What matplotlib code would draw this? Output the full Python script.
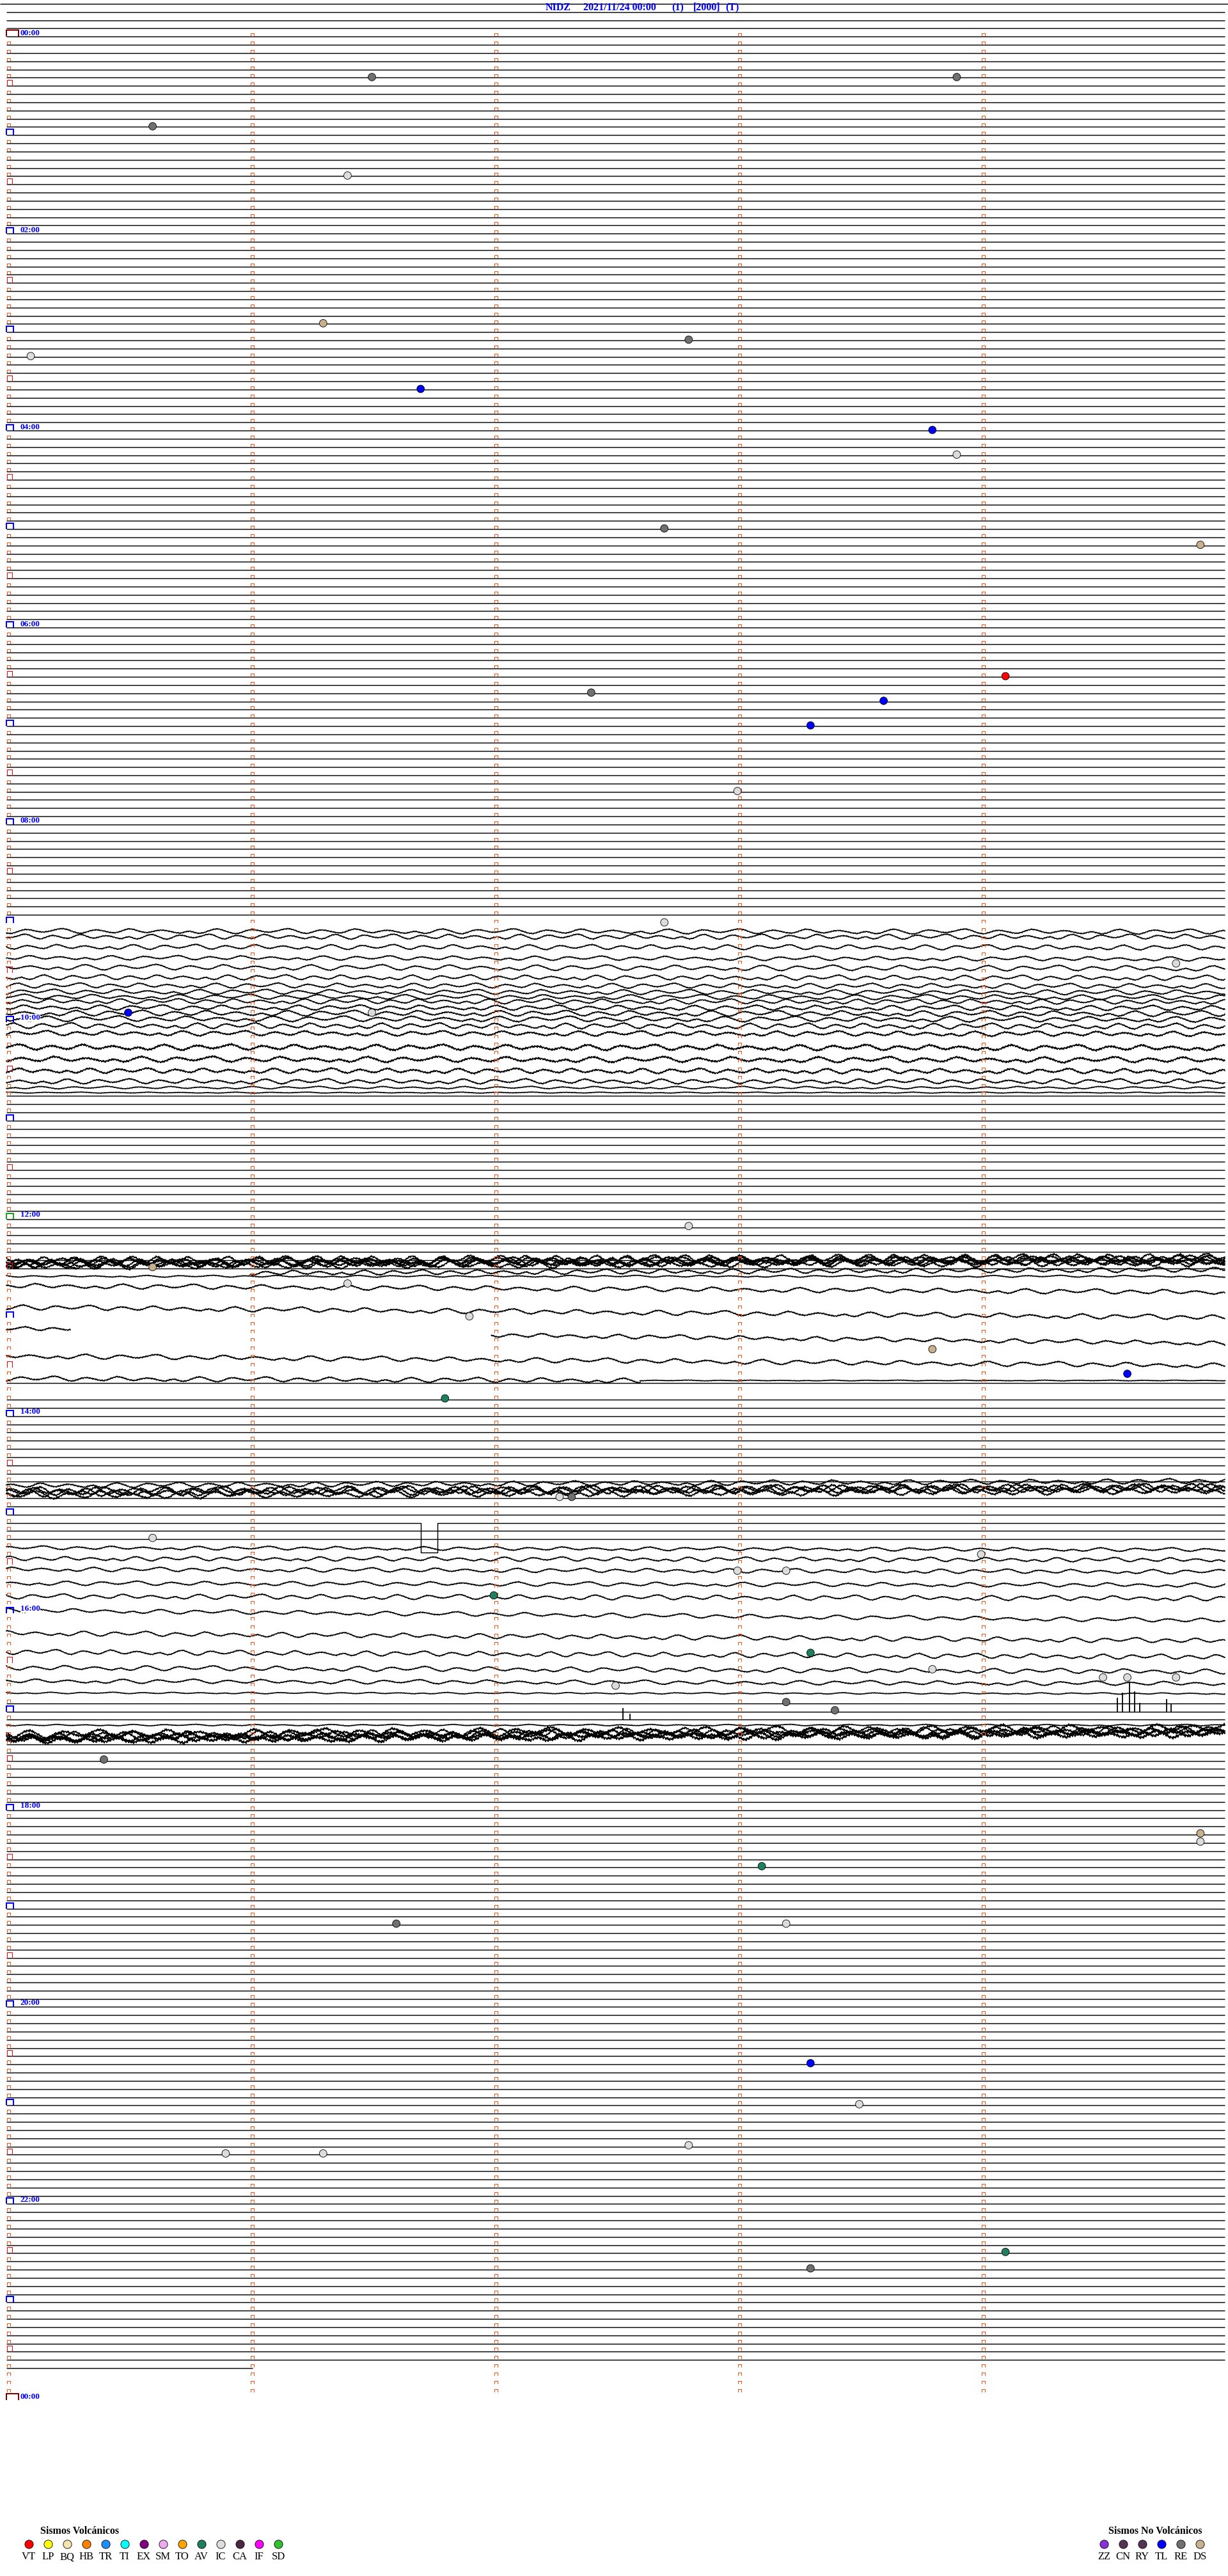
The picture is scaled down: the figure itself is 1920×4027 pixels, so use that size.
import matplotlib
matplotlib.use('Agg')
import matplotlib.pyplot as plt
from matplotlib.collections import LineCollection
import numpy as np

# ---- header -------------------------------------------------------------
station = 'NIDZ'
day_txt = '2021/11/24 00:00'
head_bits = ['(1)', '[2000]', '(T)']

# ---- picked events: minutes after 00:00 and event type --------------------
ev_min = [26.5, 28.9, 55.6, 86.4, 176.3, 187.8, 195.1, 216.7, 243.8, 258.9,
          302.7, 314.9, 394.1, 402.4, 408.6, 423.3, 463.0, 542.7, 569.8, 595.5,
          596.5, 727.8, 750.6, 761.4, 781.9, 803.8, 819.6, 831.8, 892.27, 892.32,
          915.6, 929.0, 938.0, 938.2, 952.0, 988.3, 998.8, 1004.5, 1004.6, 1004.8,
          1007.5, 1018.2, 1023.4, 1050.4, 1099.9, 1104.9, 1118.1, 1151.6, 1153.2,
          1238.3, 1263.5, 1287.8, 1290.9, 1291.3, 1354.1, 1363.3]
ev_type = ['RE', 'RE', 'RE', 'IC', 'DS', 'RE', 'IC', 'TL', 'TL', 'IC',
           'RE', 'DS', 'VT', 'RE', 'TL', 'TL', 'IC', 'IC', 'IC', 'TL',
           'IC', 'IC', 'DS', 'IC', 'IC', 'DS', 'TL', 'AV', 'IC', 'RE',
           'IC', 'IC', 'IC', 'IC', 'AV', 'AV', 'IC', 'IC', 'IC', 'IC',
           'IC', 'RE', 'RE', 'RE', 'DS', 'IC', 'AV', 'RE', 'IC',
           'TL', 'IC', 'IC', 'IC', 'IC', 'AV', 'RE']

# ---- legend -----------------------------------------------------------------
volc_codes = ['VT', 'LP', 'BQ', 'HB', 'TR', 'TI', 'EX', 'SM', 'TO', 'AV', 'IC', 'CA', 'IF', 'SD']
novolc_codes = ['ZZ', 'CN', 'RY', 'TL', 'RE', 'DS']
code_color = {'VT': '#ff0000', 'LP': '#ffff00', 'BQ': '#f3e4b0', 'HB': '#ff8000',
              'TR': '#1e8fff', 'TI': '#00ffff', 'EX': '#800080', 'SM': '#eeaaee',
              'TO': '#ffa500', 'AV': '#1f8060', 'IC': '#dcdcdc', 'CA': '#4a2840',
              'IF': '#ff00ff', 'SD': '#30c030', 'ZZ': '#8a30d8', 'CN': '#553355',
              'RY': '#553355', 'TL': '#0000ff', 'RE': '#707070', 'DS': '#c8b08c'}

# ---- disturbed stretches of the record -----------------------------------
# row (5-min line), trace offset at start / end (px), wiggle amplitude (px),
# high-frequency noise (px), minute span inside the row
wav_row = [111, 112, 113, 114, 115, 116, 117, 118, 119, 120, 121, 122, 123, 124,
           125, 126, 127, 128, 129, 130, 131,
           154, 155, 156, 157, 158, 159, 160, 161, 162, 163, 164, 165, 166, 166, 168,
           180, 189, 192, 194, 196, 187, 188, 190, 191, 193, 195, 197, 200, 202,
           203, 205, 209, 198, 199, 201, 204, 210]
wav_s0 = [12, 8, 11, 15, 17, 20, 20, 17, 12, 6, 3, -1, -5, -7,
          -8, 1, 7, 12, 16, 13, 8,
          0, 2, -49, -58, -3, -85, 5, 2, -120, 9, -152, -161, 6, 9, -185,
          3, -122, -149, -171, -203, 1, 5, -4, 5, 0, -4, 6, -3, -4,
          4, -3, -4, 156, 139, 122, 77, 4]
wav_s1 = [13, 8, 12, 17, 19, 21, 21, 18, 13, 7, 4, 0, -4, -6,
          -7, 2, 8, 13, 16, 13, 8,
          0, 12, -54, -63, 13, -90, 5, 15, -125, 24, -157, -166, 9, 9, -190,
          -3, -129, -157, -179, -209, 4, 7, 0, 8, 3, 12, 18, 5, 2,
          8, -2, -4, 146, 129, 112, 67, -6]
wav_amp = [4, 4, 4, 3.5, 4.5, 4, 4, 4, 4, 4, 4, 4.5, 4.5, 4.5,
           4, 4.5, 4.5, 4, 4, 2, 0.8,
           1.5, 4, 7, 7, 4, 7, 3, 3.5, 7, 4, 7, 7, 4, 0.6, 4,
           7, 4, 6.5, 6.5, 6, 3, 3.5, 3.5, 3.5, 4, 3.5, 4, 4, 4,
           3.5, 1.2, 1.2, 7, 7, 6, 7, 6]
wav_fuzz = [0.8, 0.8, 0.8, 0.8, 0.8, 0.8, 0.8, 0.8, 0.8, 0.8, 1, 1, 1, 1,
            1.3, 1.7, 1.6, 1.4, 1.0, 0.6, 0.5,
            0.6, 1, 1.5, 1.5, 1, 1.5, 1, 1, 1.5, 1, 1.5, 1.5, 1, 0.5, 1,
            1.5, 1, 1.5, 1.5, 1.5, 0.8, 0.8, 0.8, 0.8, 0.8, 0.8, 0.8, 0.8, 0.8,
            0.8, 0.5, 0.5, 2, 2, 2.5, 1.5, 2.5]
wav_t0 = [0] * 21 + [0, 0, 0, 0, 0, 0, 0, 1.99, 0, 0, 0, 0, 0, 2.6, 1.0] + [0] * 22
wav_t1 = [5] * 21 + [5, 5, 5, 5, 5, 5, 0.26, 5, 5, 5, 5, 5, 2.6, 5, 5] + [5] * 22

micro_shape = [0.0, 0.5, 0.9, 0.6, -0.1, -0.7, -0.9, -0.4, 0.2, 0.8, 1.0, 0.5,
               -0.2, -0.6, -0.5, -0.1, 0.3, 0.4, 0.1, -0.3, -0.8, -1.0, -0.6, 0.1,
               0.7, 0.9, 0.4, -0.2, -0.5, -0.3, 0.1, 0.5, 0.7, 0.3, -0.4, -0.9,
               -0.7, -0.1, 0.4, 0.6, 0.2, -0.2, -0.4, -0.2, 0.2, 0.6, 0.8, 0.3]
fine_noise = [0.0, 0.8, -0.5, 0.3, -0.9, 0.6, -0.2, 0.9, -0.7, 0.1, 0.5, -0.4,
              1.0, -0.8, 0.2, -0.3, 0.7, -1.0, 0.4, -0.6, 0.9, -0.1, -0.5]

# calibration pulse and spikes on otherwise quiet rows
pulse_row, pulse_t0, pulse_t1, pulse_depth = 184, 1.70, 1.77, 46
spike_row = [207, 207, 207, 207, 207, 207, 207, 208, 208]
spike_t = [4.56, 4.58, 4.61, 4.63, 4.65, 4.76, 4.78, 2.53, 2.56]
spike_h = [20, 28, 45, 30, 12, 18, 10, 17, 8]

last_row, last_t = 287, 1.01   # record stops here

# ---- geometry (pixels) ---------------------------------------------------------
W, H = 1920, 4027
X0, PPM = 10.0, 381.0           # trace start, pixels per minute
Y0, DY = 19.3, 12.83            # first row line, row spacing
PX = 0.72                       # one pixel in points


def row_y(r):
    return Y0 + DY * r


def snap(v):
    return np.floor(v) + 0.5


fig = plt.figure(figsize=(W / 100, H / 100), dpi=100)
ax = fig.add_axes([0, 0, 1, 1])
ax.set_xlim(0, W)
ax.set_ylim(H, 0)
ax.axis('off')

wave_rows = set(wav_row)

# quiet rows
flat = [[(0, snap(row_y(-1))), (W, snap(row_y(-1)))]]
for r in range(0, last_row + 1):
    if r in wave_rows:
        continue
    x_end = X0 + PPM * (last_t if r == last_row else 5)
    y = snap(row_y(r))
    if r == pulse_row:
        xa = X0 + pulse_t0 * PPM
        xb = X0 + pulse_t1 * PPM
        flat.append([(X0, y), (xa, y), (xa, y + pulse_depth), (xb, y + pulse_depth),
                     (xb, y), (x_end, y)])
    else:
        flat.append([(X0, y), (x_end, y)])
ax.add_collection(LineCollection(flat, colors='black', linewidths=1.45 * PX, antialiaseds=True))

for r, t, h in zip(spike_row, spike_t, spike_h):
    x = X0 + t * PPM
    ax.plot([x, x], [row_y(r), row_y(r) - h], color='black', lw=1.3)

# disturbed rows
L = len(micro_shape)
shape_ext = micro_shape + [micro_shape[0]]
for i, r in enumerate(wav_row):
    xs = np.arange(X0 + wav_t0[i] * PPM, X0 + wav_t1[i] * PPM + 1, 1.0)
    n = len(xs)
    step = 6.0 + (r % 4) * 0.45
    idx = (np.arange(n) / step + r * 7) % L
    base = np.interp(idx, np.arange(L + 1), shape_ext)
    fz = np.array(fine_noise)[(np.arange(n) + r * 3) % len(fine_noise)]
    frac = (xs - xs[0]) / max(xs[-1] - xs[0], 1)
    ys = row_y(r) + wav_s0[i] + (wav_s1[i] - wav_s0[i]) * frac + wav_amp[i] * base + wav_fuzz[i] * fz
    ax.plot(xs, ys, color='black', lw=1.6 * PX)

# minute ticks and time marks
small, half, hour, day_mark, noon = [], [], [], [], []
for r in range(3, 292):
    y = snap(row_y(r))
    k = r - 3
    if r == 291:
        day_mark.append([(10, y - 0.5), (10, y - 10.5), (29, y - 10.5), (29, y - 0.5)])
        continue
    for c in range(5):
        x = X0 + c * PPM + 0.5
        if c == 0 and (k % 6 == 0):
            continue
        small.append([(x, y - 1.5), (x, y - 5.5), (x + 5, y - 5.5), (x + 5, y - 1.5)])
    if k == 0:
        day_mark.append([(10, y - 0.5), (10, y - 10.5), (29, y - 10.5), (29, y - 0.5)])
    elif k == 144:
        noon.append([(9.5, y), (9.5, y - 9), (20.5, y - 9), (20.5, y)])
    elif k % 12 == 0:
        hour.append([(9.5, y), (9.5, y - 9), (20.5, y - 9), (20.5, y)])
    elif k % 6 == 0:
        half.append([(10.5, y), (10.5, y - 9), (18.5, y - 9), (18.5, y)])

ax.add_collection(LineCollection(small, colors='#ff5010', linewidths=PX, antialiaseds=False))
ax.add_collection(LineCollection(half, colors='#ff0000', linewidths=PX, antialiaseds=False))
ax.add_collection(LineCollection(hour, colors='#0000ff', linewidths=2 * PX, antialiaseds=False))
ax.add_collection(LineCollection(noon, colors='#20a020', linewidths=2 * PX, antialiaseds=False))
ax.add_collection(LineCollection(day_mark, colors='#800000', linewidths=2 * PX, antialiaseds=False))

for h in range(0, 26, 2):
    r = 3 + 12 * h
    lab = '%02d:00' % (h % 24)
    box = dict(facecolor='white', edgecolor='none', pad=0.0) if r in wave_rows else None
    ax.text(32, row_y(r) - 6, lab, color='#0000ff', fontsize=9.5, fontweight='bold',
            family='Liberation Serif', ha='left', va='center', bbox=box, zorder=4)

# events
ev_x, ev_y, ev_c = [], [], []
for t, c in zip(ev_min, ev_type):
    r = 3 + int(t // 5)
    ev_x.append(X0 + (t - 5 * (t // 5)) * PPM)
    ev_y.append(row_y(r) - 1.5)
    ev_c.append(code_color[c])
ax.scatter(ev_x, ev_y, s=72, c=ev_c, edgecolors='black', linewidths=0.6, zorder=5)

# header
hdr_font = dict(color='#0000ff', fontsize=11.5, fontweight='bold', family='Liberation Serif',
                va='center', ha='left')
ax.text(853, 12.5, station, **hdr_font)
ax.text(912, 12.5, day_txt, **hdr_font)
for x, s in zip([1050, 1084, 1134], head_bits):
    ax.text(x, 12.5, s, **hdr_font)

# legends
ax.text(63, 3957, 'Sismos Volcánicos', fontsize=11.5, fontweight='bold',
        family='Liberation Serif', ha='left', va='center')
for i, c in enumerate(volc_codes):
    x = 45 + 30 * i
    ax.scatter([x], [3977], s=90, c=code_color[c], edgecolors='black', linewidths=0.6)
    ax.text(x, 3997, c, fontsize=12, family='Liberation Serif', ha='center', va='center')

ax.text(1733, 3957, 'Sismos No Volcánicos', fontsize=11.5, fontweight='bold',
        family='Liberation Serif', ha='left', va='center')
for i, c in enumerate(novolc_codes):
    x = 1726 + 30 * i
    ax.scatter([x], [3977], s=90, c=code_color[c], edgecolors='black', linewidths=0.6)
    ax.text(x, 3997, c, fontsize=12, family='Liberation Serif', ha='center', va='center')

fig.savefig('out.png', dpi=100, facecolor='white')
